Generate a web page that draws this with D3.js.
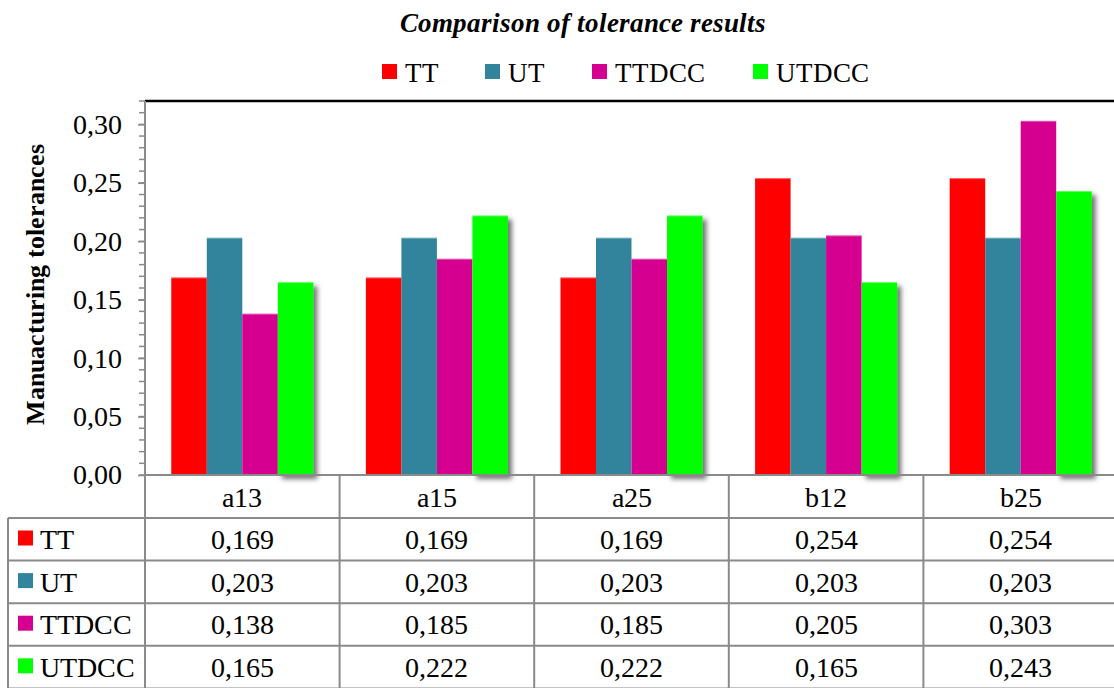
<!DOCTYPE html>
<html>
<head>
<meta charset="utf-8">
<script src="https://cdn.jsdelivr.net/npm/d3@7"></script>
<style>
  @font-face { font-family: "ChartSerif"; font-weight: normal; font-style: normal;
    src: local("Liberation Serif"), local("LiberationSerif"), local("Times New Roman"); }
  @font-face { font-family: "ChartSerif"; font-weight: bold; font-style: normal;
    src: local("Liberation Serif Bold"), local("LiberationSerif-Bold"), local("Times New Roman Bold"); }
  @font-face { font-family: "ChartSerif"; font-weight: bold; font-style: italic;
    src: local("Liberation Serif Bold Italic"), local("LiberationSerif-BoldItalic"), local("Times New Roman Bold Italic"); }
  body { margin: 0; background: #fff; }
</style>
</head>
<body>
<svg id="chart" width="1114" height="688"></svg>
<script>
// Tolerance values per feature, one array per method
const categories = ["a13", "a15", "a25", "b12", "b25"];
const seriesNames = ["TT", "UT", "TTDCC", "UTDCC"];
const TT    = [0.169, 0.169, 0.169, 0.254, 0.254];
const UT    = [0.203, 0.203, 0.203, 0.203, 0.203];
const TTDCC = [0.138, 0.185, 0.185, 0.205, 0.303];
const UTDCC = [0.165, 0.222, 0.222, 0.165, 0.243];
const seriesColors = ["#ff0000", "#31849b", "#d5008f", "#00ff00"];
const yTicks = [0, 0.05, 0.10, 0.15, 0.20, 0.25, 0.30];
const yMax = 0.32;

const FONT = "ChartSerif, Liberation Serif";

const seriesValues = [TT, UT, TTDCC, UTDCC];
const series = seriesNames.map((name, i) => ({ name, values: seriesValues[i], color: seriesColors[i] }));

const svg = d3.select("#chart").style("font-family", FONT);
const W = 1114, H = 688;
const plot = { left: 145, top: 101, bottom: 475, colW: 194.6 };
const gridColor = "#8a8a8a";

const x = d3.scaleBand().domain(categories).range([plot.left, plot.left + plot.colW * categories.length]);
const xs = d3.scaleBand().domain(seriesNames).range([0, x.bandwidth()]).paddingInner(0).paddingOuter(0.74);
const y = d3.scaleLinear().domain([0, yMax]).range([plot.bottom, plot.top]);

const comma = (fmt) => (v) => d3.format(fmt)(v).replace(".", ",");
function label(parent, x0, y0, size, str) {
  return parent.append("text")
    .attr("x", x0).attr("y", y0)
    .style("font-family", FONT)
    .style("font-size", size + "px")
    .attr("fill", "#000")
    .text(str);
}

// Drop shadow for the last series
const defs = svg.append("defs");
const f = defs.append("filter").attr("id", "shadow").attr("x", "-20%").attr("y", "-20%").attr("width", "160%").attr("height", "160%");
f.append("feDropShadow").attr("dx", 4).attr("dy", 4).attr("stdDeviation", 2.6)
  .attr("flood-color", "#000").attr("flood-opacity", 0.55);

// Title
label(svg, 583, 32, 27, "Comparison of tolerance results")
  .attr("text-anchor", "middle")
  .style("font-weight", "bold").style("font-style", "italic");

// Legend: swatch + name, entries spaced along one row
const legendX = [382, 485, 592, 753];
const legend = svg.append("g");
series.forEach((s, i) => {
  legend.append("rect").attr("x", legendX[i]).attr("y", 64).attr("width", 15).attr("height", 15).attr("fill", s.color);
  label(legend, legendX[i] + 23, 82, 27, s.name);
});

// Bars
const barG = svg.append("g");
series.forEach((s) => {
  const g = barG.append("g");
  if (s.name === "UTDCC") g.attr("filter", "url(#shadow)");
  const rows = categories.map((c, i) => ({ c, v: s.values[i] }));
  g.selectAll("rect")
    .data(rows)
    .join("rect")
    .attr("x", d => x(d.c) + xs(s.name))
    .attr("y", d => y(d.v))
    .attr("width", xs.bandwidth())
    .attr("height", d => y(0) - y(d.v))
    .attr("fill", s.color);
  // light edge along each bar top
  g.selectAll("line")
    .data(rows)
    .join("line")
    .attr("x1", d => x(d.c) + xs(s.name))
    .attr("x2", d => x(d.c) + xs(s.name) + xs.bandwidth())
    .attr("y1", d => y(d.v) + 0.5).attr("y2", d => y(d.v) + 0.5)
    .attr("stroke", "#fff").attr("stroke-opacity", 0.35).attr("stroke-width", 1);
});

// Top frame line
svg.append("line")
  .attr("x1", plot.left).attr("x2", W)
  .attr("y1", plot.top).attr("y2", plot.top)
  .attr("stroke", "#000").attr("stroke-width", 2.5);

// Y axis with minor ticks
const minorTicks = d3.range(0, 33).map(i => i / 100);
svg.append("g").selectAll("line")
  .data(minorTicks)
  .join("line")
  .attr("x1", plot.left - 6).attr("x2", plot.left)
  .attr("y1", d => y(d)).attr("y2", d => y(d))
  .attr("stroke", gridColor).attr("stroke-width", 1.5);
const yAxis = d3.axisLeft(y).tickValues(yTicks).tickFormat(comma(".2f")).tickSize(7).tickPadding(16);
const ya = svg.append("g").attr("transform", `translate(${plot.left},0)`).call(yAxis);
ya.attr("font-family", null).attr("font-size", null);
ya.select(".domain").remove();
ya.selectAll(".tick line").attr("stroke", gridColor).attr("stroke-width", 1.5);
ya.selectAll(".tick text")
  .style("font-family", FONT).style("font-size", "28px").attr("fill", "#000");
svg.append("line")
  .attr("x1", plot.left).attr("x2", plot.left)
  .attr("y1", plot.top).attr("y2", plot.bottom)
  .attr("stroke", gridColor).attr("stroke-width", 2);

// Y axis title
label(svg, 0, 0, 26, "Manuacturing tolerances")
  .attr("transform", "translate(44,284) rotate(-90)")
  .attr("text-anchor", "middle")
  .style("font-weight", "bold");

// Data table
const table = svg.append("g");
const rowH = 42.6;
const headTop = plot.bottom, headBottom = 518;
const tableLeft = 8;
const colLines = d3.range(categories.length + 1).map(i => plot.left + plot.colW * i);

// horizontal rules
table.append("line")
  .attr("x1", plot.left).attr("x2", W).attr("y1", headTop).attr("y2", headTop)
  .attr("stroke", gridColor).attr("stroke-width", 2);
d3.range(series.length + 1).forEach(r => {
  const yy = headBottom + r * rowH;
  table.append("line")
    .attr("x1", tableLeft).attr("x2", W).attr("y1", yy).attr("y2", yy)
    .attr("stroke", gridColor).attr("stroke-width", 2);
});
// vertical rules
colLines.forEach(cx => {
  table.append("line")
    .attr("x1", cx).attr("x2", cx).attr("y1", headTop).attr("y2", H)
    .attr("stroke", gridColor).attr("stroke-width", 2);
});
table.append("line")
  .attr("x1", tableLeft).attr("x2", tableLeft).attr("y1", headBottom).attr("y2", H)
  .attr("stroke", gridColor).attr("stroke-width", 2);

// header labels
categories.forEach(c => {
  label(table, x(c) + x.bandwidth() / 2, 507, 28, c).attr("text-anchor", "middle");
});

// rows
const fmt3 = comma(".3f");
series.forEach((s, r) => {
  const cy = headBottom + r * rowH;
  table.append("rect").attr("x", 18).attr("y", cy + 12.5).attr("width", 15).attr("height", 15).attr("fill", s.color);
  label(table, 40, cy + 31, 28, s.name);
  s.values.forEach((v, i) => {
    label(table, x(categories[i]) + x.bandwidth() / 2, cy + 31, 28, fmt3(v)).attr("text-anchor", "middle");
  });
});
</script>
</body>
</html>
